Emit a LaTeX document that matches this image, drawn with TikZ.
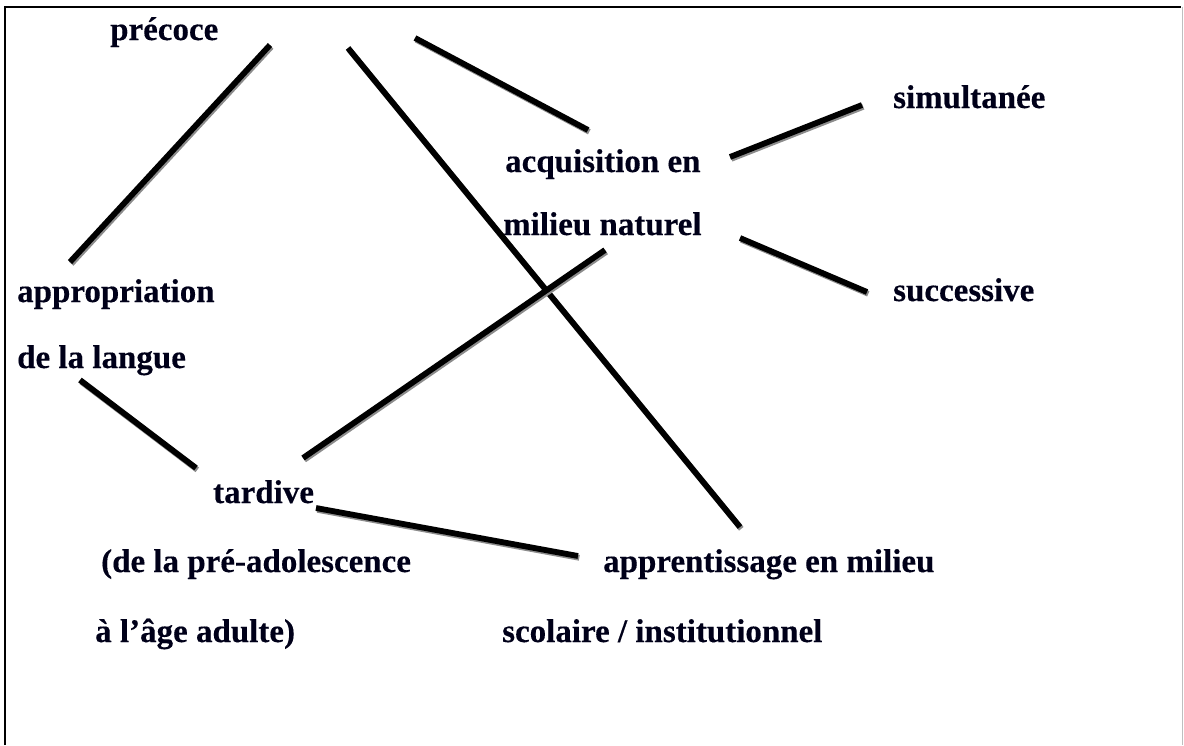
\documentclass[tikz,border=0pt]{standalone}
\usepackage{fontspec}
\newfontfamily\lab{Liberation Serif Bold}[FakeBold=0.3]
\begin{document}
\begin{tikzpicture}[x=1pt,y=-1pt,
  lbl/.style={anchor=base west,inner sep=0pt,font=\lab\fontsize{33}{33}\selectfont,text=black!90!blue},
  conn/.style={line width=5.8pt,black,
    preaction={draw=black!45,line width=5.8pt,transform canvas={shift={(1.3pt,-1.8pt)}}}},
  frame/.style={line width=1.6pt,black}]
\useasboundingbox (0,0) rectangle (1184,745);
\draw[frame] (5,745) -- (5,7) -- (1181,7);
\draw[line width=1pt,black!25] (1182,7) -- (1182,745);
% texts
\node[lbl] (pre)  at (110,40)  {précoce};
\node[lbl] (sim)  at (893,108) {simultanée};
\node[lbl] (acq)  at (505,172) {acquisition en};
\node[lbl] (mil)  at (503,235) {milieu naturel};
\node[lbl] (app)  at (17,302)  {appropriation};
\node[lbl] (suc)  at (893,301) {successive};
\node[lbl] (lan)  at (17,368)  {de la langue};
\node[lbl] (tar)  at (213,503) {tardive};
\node[lbl] (ado)  at (101,572) {(de la pré-adolescence};
\node[lbl] (appr) at (603,572) {apprentissage en milieu};
\node[lbl] (age)  at (95,642)  {à l’âge adulte)};
\node[lbl] (sco)  at (502,642) {scolaire / institutionnel};
% connectors
\draw[conn] ([shift={(160,5)}]pre.base west) -- ([shift={(53,-40)}]app.base west);
\draw[conn] ([shift={(238,8)}]pre.base west) -- ([shift={(137,-45)}]appr.base west);
\draw[conn] ([shift={(305,-2)}]pre.base west) -- ([shift={(83,-42)}]acq.base west);
\draw[conn] ([shift={(225,-15)}]acq.base west) -- ([shift={(-31,-3)}]sim.base west);
\draw[conn] ([shift={(237,3)}]mil.base west) -- ([shift={(-26,-9)}]suc.base west);
\draw[conn] ([shift={(102,15)}]mil.base west) -- ([shift={(90,-45)}]tar.base west);
\draw[conn] ([shift={(63,12)}]lan.base west) -- ([shift={(-17,-35)}]tar.base west);
\draw[conn] ([shift={(103,5)}]tar.base west) -- ([shift={(-25,-16)}]appr.base west);
\end{tikzpicture}
\end{document}
